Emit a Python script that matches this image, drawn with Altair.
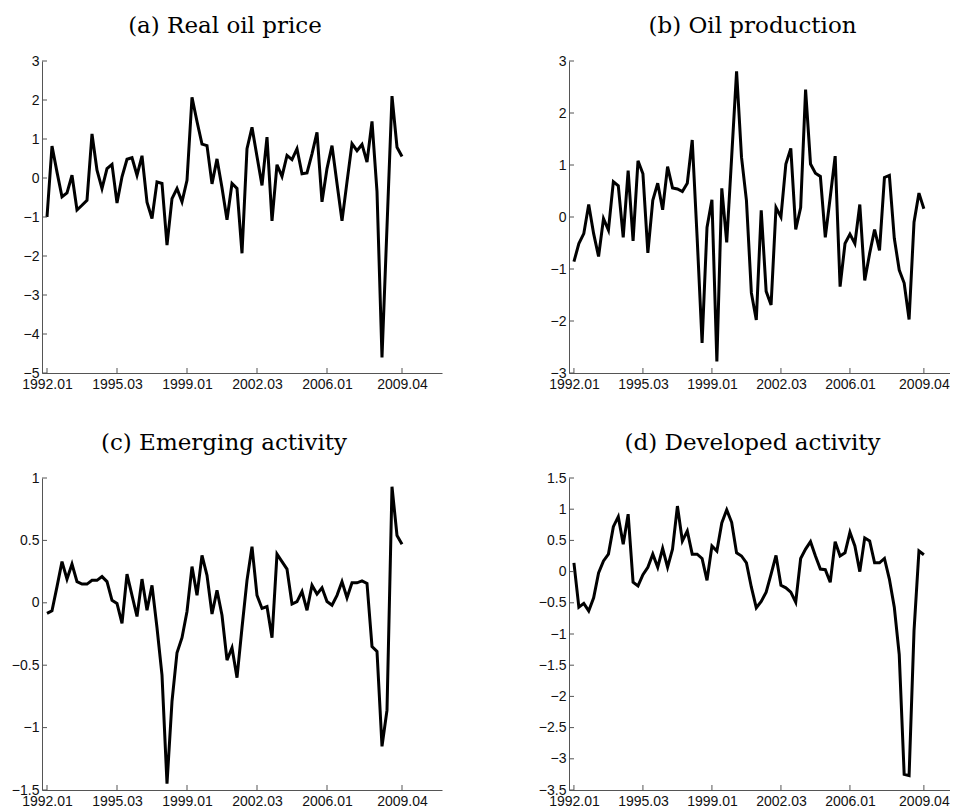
import altair as alt
import pandas as pd

# ---------------- data ----------------
quarters = list(range(72))  # 1992Q1 ... 2009Q4

real_oil_price = [
    -1.00, 0.82, 0.15, -0.48, -0.38, 0.07, -0.82, -0.70, -0.57, 1.13,
    0.20, -0.27, 0.24, 0.35, -0.64, 0.03, 0.48, 0.52, 0.07, 0.57,
    -0.62, -1.04, -0.10, -0.14, -1.72, -0.53, -0.27, -0.61, -0.06, 2.07,
    1.45, 0.87, 0.83, -0.15, 0.49, -0.25, -1.07, -0.14, -0.27, -1.93,
    0.75, 1.30, 0.55, -0.19, 1.05, -1.10, 0.34, 0.04, 0.58, 0.47,
    0.75, 0.11, 0.13, 0.62, 1.17, -0.61, 0.24, 0.83, -0.14, -1.10,
    -0.10, 0.88, 0.70, 0.86, 0.41, 1.45, -0.35, -4.60, -1.25, 2.10,
    0.79, 0.55,
]

oil_production = [
    -0.86, -0.51, -0.32, 0.24, -0.32, -0.76, -0.03, -0.25, 0.68, 0.60,
    -0.39, 0.89, -0.46, 1.08, 0.83, -0.69, 0.32, 0.65, 0.14, 0.97,
    0.56, 0.54, 0.49, 0.65, 1.48, -0.40, -2.42, -0.20, 0.33, -2.78,
    0.55, -0.49, 1.15, 2.80, 1.15, 0.32, -1.46, -1.98, 0.13, -1.43,
    -1.69, 0.18, 0.00, 1.02, 1.32, -0.24, 0.18, 2.45, 1.02, 0.84,
    0.78, -0.39, 0.38, 1.17, -1.34, -0.51, -0.33, -0.51, 0.24, -1.22,
    -0.70, -0.24, -0.64, 0.76, 0.80, -0.41, -1.02, -1.27, -1.97, -0.10,
    0.46, 0.16,
]

emerging_activity = [
    -0.085, -0.064, 0.13, 0.33, 0.19, 0.31, 0.17, 0.15, 0.15, 0.18,
    0.18, 0.21, 0.17, 0.02, -0.005, -0.165, 0.23, 0.06, -0.11, 0.19,
    -0.06, 0.14, -0.20, -0.58, -1.45, -0.79, -0.40, -0.28, -0.07, 0.29,
    0.06, 0.38, 0.22, -0.09, 0.10, -0.10, -0.46, -0.36, -0.60, -0.20,
    0.18, 0.45, 0.06, -0.045, -0.03, -0.28, 0.39, 0.33, 0.27, -0.01,
    0.01, 0.09, -0.06, 0.14, 0.07, 0.12, 0.01, -0.02, 0.06, 0.17,
    0.04, 0.16, 0.16, 0.175, 0.155, -0.35, -0.39, -1.15, -0.86, 0.93,
    0.54, 0.47,
]

developed_activity = [
    0.14, -0.57, -0.51, -0.63, -0.42, -0.02, 0.17, 0.28, 0.72, 0.88,
    0.44, 0.92, -0.17, -0.23, -0.05, 0.07, 0.28, 0.07, 0.37, 0.07,
    0.36, 1.05, 0.49, 0.65, 0.28, 0.28, 0.21, -0.14, 0.41, 0.33,
    0.78, 0.99, 0.79, 0.30, 0.25, 0.14, -0.25, -0.58, -0.48, -0.33,
    -0.04, 0.26, -0.22, -0.26, -0.33, -0.49, 0.21, 0.36, 0.48, 0.25,
    0.04, 0.03, -0.17, 0.48, 0.25, 0.30, 0.63, 0.41, 0.00, 0.54,
    0.49, 0.14, 0.14, 0.21, -0.12, -0.57, -1.33, -3.25, -3.27, -0.95,
    0.33, 0.27,
]

panel_titles = [
    "(a) Real oil price",
    "(b) Oil production",
    "(c) Emerging activity",
    "(d) Developed activity",
]

x_tick_positions = [0, 14, 28, 42, 56, 71]
x_tick_labels = ["1992.01", "1995.03", "1999.01", "2002.03", "2006.01", "2009.04"]

yticks_a = [3, 2, 1, 0, -1, -2, -3, -4, -5]
yticks_b = [3, 2, 1, 0, -1, -2, -3]
yticks_c = [1, 0.5, 0, -0.5, -1, -1.5]
yticks_d = [1.5, 1, 0.5, 0, -0.5, -1, -1.5, -2, -2.5, -3, -3.5]

# ---------------- styling ----------------
H = 312
LEFT_W = 400
RIGHT_W = 381
LEFT_XDOM = [-1, 79]
RIGHT_XDOM = [-1, 76.3]
AXIS_COLOR = "#555555"
TICK_LEN = 5

label_expr = " : ".join(
    f"datum.value == {p} ? '{l}'" for p, l in zip(x_tick_positions, x_tick_labels)
) + " : ''"


def panel(values, title, yticks, xdom, width, title_dx):
    df = pd.DataFrame({"q": quarters, "v": values})
    xs = alt.Scale(domain=xdom, nice=False, zero=False)
    ys = alt.Scale(domain=[min(yticks), max(yticks)], nice=False, zero=False)

    x_axis = alt.Axis(
        values=x_tick_positions,
        labelExpr=label_expr,
        title=None,
        ticks=False,
        grid=False,
        labelFlush=False,
        labelOverlap=False,
        labelPadding=4,
    )
    y_axis = alt.Axis(
        values=yticks,
        format=".1~f",
        title=None,
        ticks=False,
        grid=False,
        labelFlush=False,
        labelOverlap=False,
        labelPadding=3,
    )

    line = alt.Chart(df).mark_line(
        color="black", strokeWidth=3, strokeJoin="miter"
    ).encode(
        x=alt.X("q:Q", scale=xs, axis=x_axis),
        y=alt.Y("v:Q", scale=ys, axis=y_axis),
    )

    # inward-pointing tick marks (MATLAB style), placed by the panel's own scales
    xt = alt.Chart(pd.DataFrame({"q": x_tick_positions})).mark_rule(
        color=AXIS_COLOR, strokeWidth=1
    ).encode(
        x=alt.X("q:Q", scale=xs, axis=x_axis),
        y=alt.value(H),
        y2=alt.value(H - TICK_LEN),
    )

    yt = alt.Chart(pd.DataFrame({"v": yticks})).mark_rule(
        color=AXIS_COLOR, strokeWidth=1
    ).encode(
        y=alt.Y("v:Q", scale=ys, axis=y_axis),
        x=alt.value(0),
        x2=alt.value(TICK_LEN),
    )

    return alt.layer(line, xt, yt).properties(
        width=width,
        height=H,
        title=alt.TitleParams(
            title,
            font="DejaVu Serif",
            fontSize=23,
            fontWeight="normal",
            color="black",
            anchor="middle",
            frame="group",
            baseline="alphabetic",
            offset=-2,
            dx=title_dx,
        ),
    )


pa = panel(real_oil_price, panel_titles[0], yticks_a, LEFT_XDOM, LEFT_W, -17)
pb = panel(oil_production, panel_titles[1], yticks_b, RIGHT_XDOM, RIGHT_W, -7)
pc = panel(emerging_activity, panel_titles[2], yticks_c, LEFT_XDOM, LEFT_W, -18)
pd_ = panel(developed_activity, panel_titles[3], yticks_d, RIGHT_XDOM, RIGHT_W, -7)

chart = alt.concat(
    pa, pb, pc, pd_,
    columns=2,
    spacing={"row": 105, "column": 127},
    bounds="flush",
).properties(
    padding={"left": 3, "top": 7, "right": 0, "bottom": 0},
    background="white",
).configure_view(
    stroke=None
).configure_axis(
    labelFont="Liberation Sans",
    labelFontSize=14,
    labelColor="#111111",
    domainColor=AXIS_COLOR,
    domainWidth=1,
)

chart.save("out.html", embed_options={"renderer": "svg", "actions": False})
